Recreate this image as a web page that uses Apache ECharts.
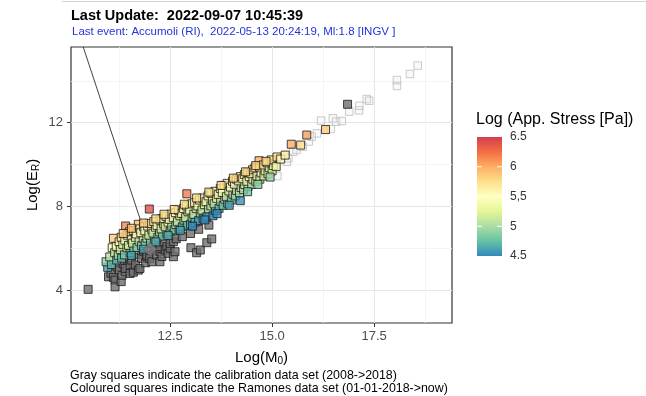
<!DOCTYPE html>
<html>
<head>
<meta charset="utf-8">
<script src="https://cdn.jsdelivr.net/npm/echarts@6/dist/echarts.min.js"></script>
<style>
  html, body { margin: 0; padding: 0; background: #fff; }
  #chart { width: 646px; height: 396px; }
</style>
</head>
<body>
<div id="chart"></div>
<script>
// axis ranges and breaks
const xRange = [10.07, 19.41];
const yRange = [2.42, 15.62];
const xMajor = [12.5, 15, 17.5];
const xMinor = [11.25, 13.75, 16.25, 18.75];
const yMajor = [4, 8, 12];
const yMinor = [6, 10, 14];

// colour bar
const stressTicks = [6.5, 6, 5.5, 5, 4.5];
const stressLabels = ['6.5', '6', '5,5', '5', '4.5'];
const spectral = ['#3288BD', '#66C2A5', '#ABDDA4', '#E6F598', '#FFFFBF', '#FEE08B', '#FDAE61', '#F46D43', '#D53E4F'];

// calibration set (grey): [logM0, logEr]
const calibration = [
  [10.49, 4.03], [10.99, 4.63], [11.05, 4.8], [11.11, 4.6], [11.15, 4.47], [11.15, 4.15],
  [11.2, 5.1], [11.26, 4.95], [11.3, 4.4], [11.32, 4.7], [11.35, 5.25], [11.4, 4.87],
  [11.45, 5.1], [11.4, 5.03], [11.52, 4.79], [11.52, 5.19], [11.56, 5.43], [11.6, 4.85],
  [11.65, 5.2], [11.72, 4.95], [11.76, 5.03], [11.7, 5.7], [11.8, 5.51], [11.85, 5.85],
  [11.9, 5.3], [11.93, 5.59], [11.93, 5.67], [12.0, 5.5], [12.05, 5.35], [12.1, 6.05],
  [12.15, 5.9], [12.17, 5.67], [12.25, 5.35], [12.25, 5.83], [12.25, 6.07], [12.3, 5.6],
  [12.35, 6.3], [12.38, 5.91], [12.42, 6.07], [12.45, 5.75], [12.5, 6.0], [12.5, 6.23],
  [12.58, 5.59], [12.58, 6.31], [12.62, 5.83], [12.65, 6.45], [12.8, 6.55], [13.0, 6.7],
  [13.2, 6.9], [13.45, 7.1], [13.01, 6.02], [13.15, 5.78], [13.24, 5.91], [13.4, 6.26],
  [13.52, 6.44], [16.85, 12.88]
];

// faint grey squares (upper right)
const faint = [
  [15.13, 9.45], [15.36, 10.13], [15.4, 10.3], [15.52, 10.61], [15.6, 10.7], [15.75, 10.85],
  [15.9, 11.1], [15.97, 11.33], [16.1, 11.49], [16.2, 12.1], [16.44, 11.7], [16.49, 12.21],
  [16.57, 12.05], [16.71, 12.08], [16.89, 12.53], [17.13, 12.59], [17.14, 12.81],
  [17.32, 13.13], [17.38, 13.05], [18.06, 13.76], [18.06, 14.04], [18.38, 14.33], [18.57, 14.73]
];

// Ramones set (coloured): [logM0, logEr, log apparent stress]
const ramones = [
  [10.97, 5.08, 4.6], [10.93, 5.35, 4.9], [11.06, 5.22, 4.7], [11.02, 5.58, 5.05], [11.08, 6.02, 5.45],
  [11.11, 6.47, 5.85], [11.14, 5.78, 5.15],
  [11.19, 5.43, 4.7], [11.23, 5.66, 4.95], [11.18, 6.08, 5.4], [11.25, 6.3, 5.55],
  [11.31, 5.52, 4.7], [11.28, 5.93, 5.15], [11.34, 6.18, 5.35], [11.3, 6.52, 5.7],
  [11.41, 7.06, 6.15],
  [11.38, 5.68, 4.8], [11.44, 6.02, 5.1], [11.39, 6.38, 5.5], [11.45, 6.62, 5.65],
  [11.52, 5.78, 4.75], [11.48, 6.13, 5.15], [11.55, 6.42, 5.35], [11.5, 6.78, 5.8],
  [11.61, 5.92, 4.8], [11.58, 6.24, 5.15], [11.65, 6.52, 5.4], [11.6, 6.84, 5.75],
  [11.72, 7.14, 5.9],
  [11.69, 6.03, 4.85], [11.74, 6.33, 5.1], [11.67, 6.68, 5.5], [11.76, 6.92, 5.65],
  [11.8, 6.12, 4.8], [11.84, 6.47, 5.15], [11.78, 6.74, 5.45], [11.85, 7.02, 5.65],
  [11.89, 6.22, 4.85], [11.93, 6.48, 5.05], [11.88, 6.83, 5.45], [11.95, 7.06, 5.6],
  [11.99, 7.87, 6.4],
  [12.02, 6.28, 4.75], [11.98, 6.62, 5.15], [12.05, 6.9, 5.35], [12.0, 7.18, 5.7],
  [12.12, 6.42, 4.8], [12.08, 6.72, 5.15], [12.14, 7.0, 5.35], [12.1, 7.27, 5.65],
  [12.2, 6.52, 4.8], [12.24, 6.78, 5.05], [12.18, 7.08, 5.4], [12.25, 7.34, 5.6],
  [12.31, 6.58, 4.75], [12.28, 6.92, 5.15], [12.34, 7.16, 5.3], [12.3, 7.42, 5.6],
  [12.42, 6.72, 4.8], [12.38, 7.02, 5.15], [12.45, 7.24, 5.3], [12.4, 7.52, 5.6],
  [12.5, 6.8, 4.8], [12.54, 7.06, 5.0], [12.48, 7.38, 5.4], [12.52, 7.63, 5.6],
  [12.6, 6.88, 4.8], [12.64, 7.13, 5.0], [12.58, 7.46, 5.4], [12.63, 7.7, 5.55],
  [12.72, 6.95, 4.75], [12.68, 7.26, 5.1], [12.74, 7.55, 5.3], [12.7, 7.81, 5.6],
  [12.8, 7.02, 4.7], [12.84, 7.34, 5.0], [12.78, 7.66, 5.4], [12.83, 7.9, 5.55],
  [12.91, 8.6, 6.2],
  [12.92, 7.1, 4.7], [12.88, 7.46, 5.1], [12.94, 7.74, 5.3], [12.9, 8.02, 5.6],
  [13.0, 7.15, 4.65], [13.04, 7.48, 4.95], [12.98, 7.82, 5.35], [13.03, 8.12, 5.6],
  [13.11, 7.24, 4.65], [13.08, 7.62, 5.05], [13.14, 7.9, 5.25], [13.1, 8.18, 5.6],
  [13.2, 7.32, 4.6], [13.24, 7.68, 4.95], [13.18, 8.02, 5.35], [13.22, 8.3, 5.6],
  [13.31, 7.4, 4.6], [13.28, 7.82, 5.05], [13.34, 8.08, 5.25], [13.3, 8.4, 5.6],
  [13.4, 7.5, 4.6], [13.44, 7.88, 4.95], [13.38, 8.22, 5.35], [13.43, 8.5, 5.55],
  [13.55, 7.55, 4.5], [13.5, 8.02, 5.0], [13.54, 8.28, 5.25], [13.5, 8.62, 5.6],
  [13.61, 7.8, 4.7], [13.58, 8.12, 5.05], [13.64, 8.38, 5.25], [13.6, 8.72, 5.6],
  [13.7, 7.9, 4.7], [13.74, 8.24, 5.0], [13.68, 8.57, 5.4], [13.73, 8.85, 5.6],
  [13.8, 8.05, 4.75], [13.84, 8.34, 5.0], [13.78, 8.66, 5.4], [13.82, 9.0, 5.7],
  [13.91, 8.15, 4.75], [13.88, 8.46, 5.1], [13.94, 8.74, 5.3], [13.9, 9.1, 5.7],
  [14.0, 8.3, 4.8], [14.04, 8.58, 5.05], [13.98, 8.92, 5.45], [14.03, 9.2, 5.65],
  [14.1, 8.5, 4.9], [14.13, 8.76, 5.15], [14.08, 9.06, 5.5], [14.12, 9.3, 5.7],
  [14.22, 8.27, 4.55],
  [14.2, 8.65, 4.95], [14.24, 8.9, 5.15], [14.18, 9.22, 5.55], [14.22, 9.42, 5.7],
  [14.3, 8.8, 5.0], [14.33, 9.04, 5.2], [14.28, 9.32, 5.55], [14.32, 9.52, 5.7],
  [14.41, 8.95, 5.05], [14.38, 9.2, 5.3], [14.44, 9.42, 5.5], [14.4, 9.62, 5.7],
  [14.5, 9.05, 5.05], [14.53, 9.3, 5.25], [14.48, 9.56, 5.6], [14.52, 9.75, 5.75],
  [14.6, 9.2, 5.1], [14.63, 9.45, 5.3], [14.58, 9.84, 5.75],
  [14.68, 10.18, 6.0],
  [14.7, 9.3, 5.1], [14.73, 9.6, 5.35], [14.69, 9.88, 5.7],
  [14.8, 9.45, 5.15], [14.83, 9.7, 5.35], [14.78, 9.98, 5.7],
  [14.9, 9.55, 5.15], [14.93, 9.85, 5.4], [14.88, 10.08, 5.7],
  [15.0, 9.7, 5.2], [15.03, 9.95, 5.4], [14.98, 10.22, 5.75],
  [15.1, 9.9, 5.3], [15.12, 10.36, 5.75],
  [15.21, 10.26, 5.55], [15.32, 10.45, 5.65], [15.47, 10.97, 6.0], [15.7, 10.93, 5.75],
  [15.85, 11.41, 6.05], [16.31, 11.67, 5.85],
  // upper edge of the band
  [11.35, 6.7, 5.85], [11.55, 6.95, 5.9], [11.85, 7.2, 5.85], [12.15, 7.4, 5.75], [12.35, 7.62, 5.75],
  [12.6, 7.85, 5.75], [12.85, 8.1, 5.75], [13.15, 8.4, 5.75], [13.45, 8.68, 5.75], [13.75, 9.0, 5.75],
  [14.05, 9.35, 5.8], [14.35, 9.65, 5.8], [14.6, 9.95, 5.85], [14.85, 10.15, 5.8],
  // lower edge of the band
  [11.55, 5.65, 4.6], [11.85, 5.95, 4.6], [12.15, 6.3, 4.65], [12.45, 6.6, 4.65], [12.75, 6.85, 4.6],
  [13.05, 7.05, 4.5], [13.35, 7.35, 4.5], [13.65, 7.65, 4.5], [13.95, 8.05, 4.6], [14.4, 8.7, 4.8],
  [14.65, 9.05, 4.9], [14.95, 9.4, 4.95]
];

// last event marker and the pointer running to it from the top of the panel
const lastEvent = [[12.01, 5.94]];
const pointerLine = [[10.37, 15.62], [12.01, 5.94]];

const FONT = 'Liberation Sans, Arial, sans-serif';
const chart = echarts.init(document.getElementById('chart'), null, { renderer: 'canvas' });

// colour bar geometry
const bar = { x: 477, y: 137, w: 25, h: 119 };
const stressToY = v => bar.y + (stressTicks[0] - v) / (stressTicks[0] - stressTicks[stressTicks.length - 1]) * bar.h;

const barStops = spectral.map((c, i) => ({ offset: 1 - i / (spectral.length - 1), color: c }));
const legendGraphics = [
  { type: 'line', shape: { x1: 62, y1: 1.5, x2: 646, y2: 1.5 }, style: { stroke: '#d4d4d4', lineWidth: 1 } },
  { type: 'text', left: 476, top: 112, style: { text: 'Log (App. Stress [Pa])', font: '16px ' + FONT, fill: '#000' } },
  { type: 'rect', shape: { x: bar.x, y: bar.y, width: bar.w, height: bar.h },
    style: { fill: { type: 'linear', x: 0, y: 0, x2: 0, y2: 1, colorStops: barStops.slice().reverse() } } }
];
stressTicks.forEach((v, i) => {
  const y = stressToY(v);
  if (i > 0 && i < stressTicks.length - 1) {
    legendGraphics.push({ type: 'line', shape: { x1: bar.x, y1: y, x2: bar.x + 5, y2: y }, style: { stroke: '#fff', lineWidth: 1 } });
    legendGraphics.push({ type: 'line', shape: { x1: bar.x + bar.w - 5, y1: y, x2: bar.x + bar.w, y2: y }, style: { stroke: '#fff', lineWidth: 1 } });
  }
  legendGraphics.push({ type: 'text', x: 510, y: y, style: { text: stressLabels[i], font: '12px ' + FONT, fill: '#333', verticalAlign: 'middle' } });
});

const subRich = {
  a: { fontSize: 15, fontFamily: FONT, color: '#000' },
  s: { fontSize: 10, fontFamily: FONT, color: '#000', padding: [7, 0, 0, 0] }
};

const noteStyle = { fontFamily: FONT, fontSize: 12.4, fontWeight: 'normal', color: '#000' };

const option = {
  animation: false,
  backgroundColor: '#fff',
  title: [
    { text: 'Last Update:  2022-09-07 10:45:39', left: 71, top: 8, padding: 0,
      textStyle: { fontFamily: FONT, fontSize: 14.5, fontWeight: 'bold', color: '#000' } },
    { text: 'Last event: Accumoli (RI),  2022-05-13 20:24:19, Ml:1.8 [INGV ]', left: 72, top: 26, padding: 0,
      textStyle: { fontFamily: FONT, fontSize: 11.5, fontWeight: 'normal', color: '#2233dd' } },
    { text: 'Gray squares indicate the calibration data set (2008->2018)', left: 70, top: 370, padding: 0, textStyle: noteStyle },
    { text: 'Coloured squares indicate the Ramones data set (01-01-2018->now)', left: 70, top: 383, padding: 0, textStyle: noteStyle }
  ],
  grid: { left: 71, right: 194, top: 47, bottom: 73, show: true, backgroundColor: '#fff', borderColor: '#333', borderWidth: 1.2 },
  xAxis: [
    {
      type: 'value', min: xRange[0], max: xRange[1],
      name: '{a|Log(M}{s|0}{a|)}', nameLocation: 'middle', nameGap: 26,
      nameTextStyle: { rich: subRich },
      axisLine: { show: false },
      axisTick: { show: true, length: 4, customValues: xMajor, lineStyle: { color: '#333' } },
      axisLabel: { customValues: xMajor, formatter: v => v.toFixed(1), color: '#4d4d4d', fontSize: 13, fontFamily: FONT, margin: 7 },
      splitLine: { show: true, lineStyle: { color: '#e6e6e6', width: 1 } }
    },
    {
      type: 'value', min: xRange[0], max: xRange[1], position: 'bottom',
      axisLine: { show: false }, axisLabel: { show: false },
      axisTick: { show: false, customValues: xMinor },
      splitLine: { show: true, lineStyle: { color: '#f1f1f1', width: 0.8 } }
    }
  ],
  yAxis: [
    {
      type: 'value', min: yRange[0], max: yRange[1],
      name: '{a|Log(E}{s|R}{a|)}', nameLocation: 'middle', nameGap: 30, nameRotate: 90,
      nameMoveOverlap: false,
      nameTextStyle: { rich: subRich },
      axisLine: { show: false },
      axisTick: { show: true, length: 4, customValues: yMajor, lineStyle: { color: '#333' } },
      axisLabel: { customValues: yMajor, color: '#4d4d4d', fontSize: 13, fontFamily: FONT, margin: 8 },
      splitLine: { show: true, lineStyle: { color: '#e6e6e6', width: 1 } }
    },
    {
      type: 'value', min: yRange[0], max: yRange[1], position: 'left',
      axisLine: { show: false }, axisLabel: { show: false },
      axisTick: { show: false, customValues: yMinor },
      splitLine: { show: true, lineStyle: { color: '#f1f1f1', width: 0.8 } }
    }
  ],
  visualMap: {
    type: 'continuous', show: false, seriesIndex: 3, dimension: 2,
    min: 4.5, max: 6.5, inRange: { color: spectral }
  },
  series: [
    {
      type: 'line', data: pointerLine, symbol: 'none', silent: true, z: 1,
      lineStyle: { color: '#111', width: 0.8 }
    },
    {
      type: 'scatter', data: faint, symbol: 'rect', symbolSize: 7.5, z: 2,
      itemStyle: { color: 'rgba(235,235,235,0.35)', borderColor: '#bdbdbd', borderWidth: 1 }
    },
    {
      type: 'scatter', data: calibration, symbol: 'rect', symbolSize: 8, z: 3,
      itemStyle: { color: '#6e6e6e', borderColor: '#1a1a1a', borderWidth: 1 }
    },
    {
      type: 'scatter', data: ramones, symbol: 'rect', symbolSize: 8, z: 4,
      itemStyle: { borderColor: '#1a1a1a', borderWidth: 1 }
    },
    {
      type: 'scatter', data: lastEvent, symbol: 'diamond', symbolSize: 14, z: 5,
      itemStyle: { color: '#808080', borderColor: '#555', borderWidth: 1 }
    }
  ],
  graphic: legendGraphics
};

chart.setOption(option);
</script>
</body>
</html>
